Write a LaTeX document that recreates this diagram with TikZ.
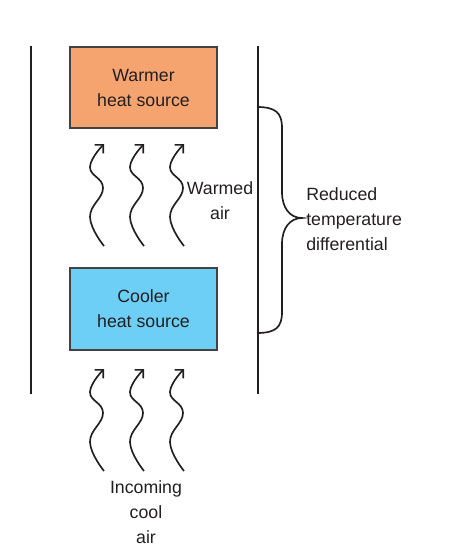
\documentclass[tikz,border=0pt]{standalone}
\usepackage{fontspec}
\setmainfont{Liberation Sans}
\usetikzlibrary{arrows.meta}
\definecolor{warmfill}{HTML}{F5A46F}
\definecolor{coolfill}{HTML}{6DCFF6}
\definecolor{ink}{HTML}{231F20}
\begin{document}
\begin{tikzpicture}[x=0.75pt,y=-0.75pt,
  every node/.style={text=ink,font=\fontsize{13.3}{18.75}\selectfont},
  srcbox/.style={draw=ink!85,line width=1.5pt,minimum width=110.25pt,minimum height=61pt,align=center,inner sep=0pt},
  wall/.style={draw=ink,line width=1.3pt},
  wavy/.style={draw=ink,line width=1.25pt,-{Straight Barb[length=4.5pt,width=9pt,line width=1.2pt]}},
  lbl/.style={align=center,inner sep=0pt},
  wave/.pic={\path[wavy] plot[smooth,tension=0.75] coordinates {(0,102) (-14,73) (-1,44) (-14,23) (0,0)};}
]
\useasboundingbox (0,0) rectangle (450,558);
% walls
\coordinate (lt) at (31,46);
\coordinate (lb) at (31,394);
\coordinate (rt) at (258,46);
\coordinate (rb) at (258,394);
\draw[wall] (lt) -- (lb);
\draw[wall] (rt) -- (rb);
% boxes
\node[srcbox,fill=warmfill] (warm) at (143.5,87.5) {Warmer\\heat source};
\node[srcbox,fill=coolfill] (cool) at (143.5,309) {Cooler\\heat source};
% waves upper
\pic at (104,144) {wave};
\pic at (144,144) {wave};
\pic at (184,144) {wave};
% waves lower
\pic at (104,369) {wave};
\pic at (144,369) {wave};
\pic at (184,369) {wave};
% labels
\node[lbl] (warmed) at (220,201) {Warmed\\air};
\node[lbl] (incoming) at (146,512) {Incoming\\cool\\air};
% brace
\coordinate (bt) at (257,107);
\coordinate (btip) at (302,218);
\coordinate (bb) at (257,333);
\draw[draw=ink,line width=1.25pt] (bt) .. controls (276,107) and (282,113) .. (282,128)
  -- (282,192) .. controls (282,208) and (290,218) .. (btip)
  .. controls (290,218) and (282,228) .. (282,244)
  -- (282,312) .. controls (282,327) and (276,333) .. (bb);
\node[lbl,align=left,anchor=west] (reduced) at (306,219) {Reduced\\temperature\\differential};
\end{tikzpicture}
\end{document}
